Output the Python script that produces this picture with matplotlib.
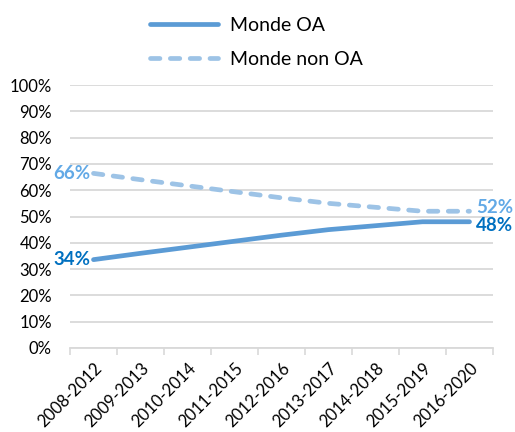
import numpy as np
import matplotlib.pyplot as plt

# data
periods = ['2008-2012', '2009-2013', '2010-2014', '2011-2015', '2012-2016',
           '2013-2017', '2014-2018', '2015-2019', '2016-2020']
oa = [33.6, 36.0, 38.3, 40.6, 42.9, 45.0, 46.5, 48.0, 48.0]
non_oa = [66.4, 64.0, 61.7, 59.4, 57.1, 55.0, 53.5, 52.0, 52.0]
y_ticks = list(range(0, 101, 10))

plt.rcParams['font.family'] = ['Lato', 'DejaVu Sans']

fig = plt.figure(figsize=(5.15, 4.32), dpi=100)
ax = fig.add_axes([70/515, 1 - 348/432, 423/515, 263/432])

x = np.arange(len(periods))
l1, = ax.plot(x, oa, color='#5B9BD5', lw=3.4, solid_capstyle='round', label='Monde OA')
l2, = ax.plot(x, non_oa, color='#9DC3E6', lw=3.4, dashes=(2.0, 2.2),
              dash_capstyle='round', label='Monde non OA')

# data labels at both ends
ax.annotate('34%', (x[0], oa[0]), xytext=(-2, 0), textcoords='offset points',
            ha='right', va='center', color='#0070C0', fontsize=13.5, fontweight='bold')
ax.annotate('66%', (x[0], non_oa[0]), xytext=(-2, 0), textcoords='offset points',
            ha='right', va='center', color='#62A9E6', fontsize=13.5, fontweight='bold')
ax.annotate('48%', (x[-1], oa[-1]), xytext=(5, -3), textcoords='offset points',
            ha='left', va='center', color='#0070C0', fontsize=13.5, fontweight='bold')
ax.annotate('52%', (x[-1], non_oa[-1]), xytext=(5, 3), textcoords='offset points',
            ha='left', va='center', color='#62A9E6', fontsize=13.5, fontweight='bold')

ax.set_xlim(-0.5, len(periods) - 0.5)
ax.set_ylim(0, 100)
ax.set_yticks(y_ticks)
ax.set_yticklabels([f'{v}%' for v in y_ticks])
ax.set_xticks(x)
ax.set_xticklabels(periods, rotation=45, ha='right', rotation_mode='anchor')
ax.set_xticks(np.arange(-0.5, len(periods)), minor=True)
ax.tick_params(axis='x', which='major', length=0, pad=9, labelsize=12)
ax.tick_params(axis='x', which='minor', length=5, width=1.2, color='#D9D9D9', direction='out')
ax.tick_params(axis='y', length=0, pad=13, labelsize=12)

ax.grid(axis='y', color='#D9D9D9', lw=1.3)
ax.set_axisbelow(True)
for s in ['top', 'right', 'left']:
    ax.spines[s].set_visible(False)
ax.spines['bottom'].set_color('#D9D9D9')
ax.spines['bottom'].set_linewidth(1.3)

fig.legend(handles=[l1, l2], loc='upper left', bbox_to_anchor=(150/515, 0.96),
           frameon=False, fontsize=14, handlelength=3.5, handletextpad=0.6,
           labelspacing=0.85, borderpad=0, borderaxespad=0)

fig.savefig('out.png', dpi=100)
